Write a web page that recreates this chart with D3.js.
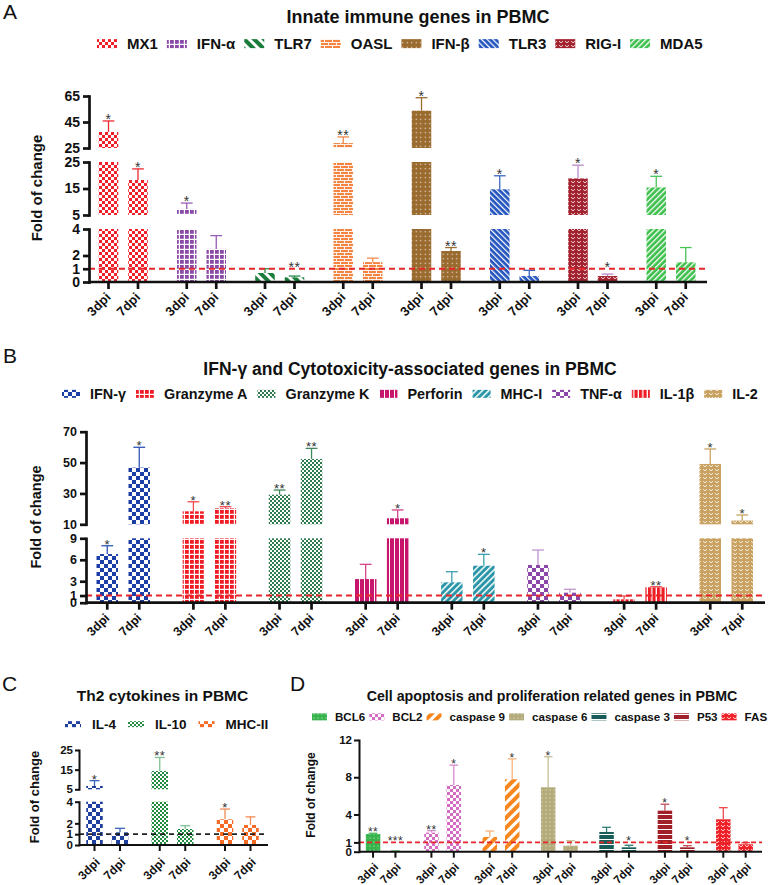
<!DOCTYPE html>
<html><head><meta charset="utf-8">
<script src="https://cdn.jsdelivr.net/npm/d3@7"></script>
<style>body{margin:0;background:#fff} text{font-family:"Liberation Sans",Arial,sans-serif}</style>
</head><body><svg id="chart" width="778" height="885"></svg>
<script>
// ---------- DATA ----------
const days = ["3dpi", "7dpi"];

// Panel A
const genesA = ["MX1", "IFN-α", "TLR7", "OASL", "IFN-β", "TLR3", "RIG-I", "MDA5"];
const meanA3 = [37.3, 7.3, 0.68, 28.8, 53.7, 14.7, 18.8, 15.4];
const sdA3   = [8.5, 2.2, 0.32, 4.7, 10.0, 5.1, 5.0, 4.2];
const meanA7 = [18.2, 2.5, 0.35, 1.5, 2.34, 0.45, 0.45, 1.49];
const sdA7   = [4.2, 1.0, 0.1, 0.3, 0.26, 0.43, 0.15, 1.11];
const sigA3  = ["*", "*", "", "**", "*", "*", "*", "*"];
const sigA7  = ["*", "", "**", "", "**", "", "*", ""];
const segDomainsA = [[0, 4], [5, 25], [25, 65]];
const segTicksA   = [[0, 1, 2, 4], [5, 15, 25], [25, 45, 65]];

// Panel B
const genesB = ["IFN-γ", "Granzyme A", "Granzyme K", "Perforin", "MHC-I", "TNF-α", "IL-1β", "IL-2"];
const meanB3 = [6.8, 18.4, 29.2, 3.3, 2.85, 5.27, 0.47, 49.1];
const sdB3   = [1.16, 6.2, 3.0, 2.06, 1.48, 2.09, 0.46, 9.7];
const meanB7 = [46.7, 20.4, 52.3, 13.9, 5.17, 1.4, 2.15, 12.4];
const sdB7   = [13.2, 1.0, 6.9, 5.4, 1.59, 0.47, 0.08, 3.6];
const sigB3  = ["*", "*", "**", "", "", "", "", "*"];
const sigB7  = ["*", "**", "**", "*", "*", "", "**", "*"];
const segDomainsB = [[0, 9], [10, 70]];
const segTicksB   = [[0, 1, 3, 6, 9], [10, 30, 50, 70]];

// Panel C
const genesC = ["IL-4", "IL-10", "MHC-II"];
const meanC3 = [6.7, 14.3, 2.37];
const sdC3   = [2.7, 6.9, 0.95];
const meanC7 = [1.17, 1.48, 1.85];
const sdC7   = [0.37, 0.3, 0.75];
const sigC3  = ["*", "**", "*"];
const sigC7  = ["", "", ""];
const segDomainsC = [[0, 4], [5, 25]];
const segTicksC   = [[0, 1, 2, 4], [5, 15, 25]];

// Panel D
const genesD = ["BCL6", "BCL2", "caspase 9", "caspase 6", "caspase 3", "P53", "FAS"];
const meanD3 = [1.9, 2.05, 1.58, 6.92, 2.12, 4.41, 3.48];
const sdD3   = [0.08, 0.21, 0.64, 3.28, 0.5, 0.69, 1.25];
const meanD7 = [0.05, 7.17, 7.78, 0.65, 0.47, 0.47, 0.8];
const sdD7   = [0.02, 2.13, 2.19, 0.53, 0.22, 0.18, 0.17];
const sigD3  = ["**", "**", "", "*", "", "*", ""];
const sigD7  = ["***", "*", "*", "", "*", "*", ""];
const segDomainsD = [[0, 12]];
const segTicksD   = [[0, 1, 4, 8, 12]];

const refLine = 1;

// ---------- STYLES ----------
const colorsA = ["#ef2029", "#8a4aa6", "#1b7d3b", "#f4843f", "#9a6b2f", "#2455be", "#a32230", "#3cbf4b"];
const errColorsA = ["#ef2a30", "#9b5cb5", "#2c8a48", "#f08a4a", "#9a6b2f", "#3a66c4", "#b98ac8", "#48c456"];
const patsA = [{t:"checker",s:3},{t:"grid",s:5,w:1.2},{t:"diag",s:7,w:3,a:-45},{t:"bricks"},{t:"dots",s:4.5,r:0.7},{t:"diag",s:4,w:1.2,a:-45},{t:"waves"},{t:"diag",s:4,w:1.3,a:45}];

const colorsB = ["#1b3fa6", "#ee1d25", "#2d7a4c", "#c7146c", "#2996a8", "#8b47a8", "#ee1d25", "#c9a261"];
const errColorsB = ["#2f55b5", "#f04a4f", "#3f8a5c", "#d3458a", "#3aa0b0", "#c094cf", "#f04a4f", "#c9a261"];
const patsB = [{t:"checker",s:4},{t:"grid",s:5,w:1.2},{t:"checker",s:2},{t:"vlines",s:5,w:1},{t:"diag",s:4.5,w:1.5,a:45},{t:"checker",s:4},{t:"vlines",s:4.5,w:1.3},{t:"waves"}];

const colorsC = ["#1e3f9e", "#238a42", "#f36b24"];
const errColorsC = ["#3b66c4", "#7fc094", "#f58a54"];
const patsC = [{t:"checker",s:4},{t:"checker",s:2},{t:"checker",s:4}];

const colorsD = ["#36b34a", "#d36cc2", "#f7861e", "#b3ab7a", "#175c58", "#a01f29", "#ee2028"];
const errColorsD = ["#4cb95a", "#d98bcd", "#f9b27a", "#c6bf95", "#2f7a74", "#c0505a", "#f04a4f"];
const patsD = [{t:"dots",s:4,r:0.6},{t:"checker",s:3},{t:"diag",s:7,w:3,a:45},{t:"dots",s:4,r:0.6},{t:"hlines",s:5,w:1},{t:"hlines",s:5,w:1},{t:"waves"}];

// ---------- DRAWING ----------
const svg = d3.select("#chart");
const defs = svg.append("defs");
const FONT = '"Liberation Sans", Arial, sans-serif';

function makePattern(id, spec, color) {
  const W = "#ffffff";
  const p = defs.append("pattern").attr("id", id).attr("patternUnits", "userSpaceOnUse");
  let w = 6, h = 6;
  if (spec.t === "checker") {
    const s = spec.s; w = h = 2 * s;
    p.append("rect").attr("width", w).attr("height", h).attr("fill", color);
    p.append("rect").attr("x", 0).attr("y", 0).attr("width", s).attr("height", s).attr("fill", W);
    p.append("rect").attr("x", s).attr("y", s).attr("width", s).attr("height", s).attr("fill", W);
  } else if (spec.t === "grid") {
    const s = spec.s; w = h = s;
    p.append("rect").attr("width", w).attr("height", h).attr("fill", color);
    p.append("rect").attr("x", s - spec.w).attr("y", 0).attr("width", spec.w).attr("height", s).attr("fill", W);
    p.append("rect").attr("x", 0).attr("y", s - spec.w).attr("width", s).attr("height", spec.w).attr("fill", W);
  } else if (spec.t === "diag") {
    w = h = spec.s;
    p.attr("patternTransform", `rotate(${spec.a})`);
    p.append("rect").attr("width", w).attr("height", h).attr("fill", color);
    p.append("rect").attr("x", 0).attr("width", spec.w).attr("height", h).attr("fill", W);
  } else if (spec.t === "bricks") {
    w = 8; h = 6;
    p.append("rect").attr("width", w).attr("height", h).attr("fill", color);
    p.append("rect").attr("x", 0).attr("y", 0).attr("width", 8).attr("height", 0.9).attr("fill", W);
    p.append("rect").attr("x", 0).attr("y", 3).attr("width", 8).attr("height", 0.9).attr("fill", W);
    p.append("rect").attr("x", 0).attr("y", 0).attr("width", 0.9).attr("height", 3).attr("fill", W);
    p.append("rect").attr("x", 4).attr("y", 3).attr("width", 0.9).attr("height", 3).attr("fill", W);
  } else if (spec.t === "dots") {
    w = h = spec.s;
    p.append("rect").attr("width", w).attr("height", h).attr("fill", color);
    p.append("circle").attr("cx", w / 2).attr("cy", h / 2).attr("r", spec.r).attr("fill", W).attr("opacity", 0.85);
  } else if (spec.t === "vlines") {
    w = spec.s; h = 4;
    p.append("rect").attr("width", w).attr("height", h).attr("fill", color);
    p.append("rect").attr("x", w - spec.w).attr("width", spec.w).attr("height", h).attr("fill", W);
  } else if (spec.t === "hlines") {
    w = 4; h = spec.s;
    p.append("rect").attr("width", w).attr("height", h).attr("fill", color);
    p.append("rect").attr("y", h - spec.w).attr("width", w).attr("height", spec.w).attr("fill", W);
  } else if (spec.t === "waves") {
    w = 6; h = 4;
    p.append("rect").attr("width", w).attr("height", h).attr("fill", color);
    p.append("path").attr("d", "M1,1.2 L3,2.8 L5,1.2").attr("fill", "none").attr("stroke", W).attr("stroke-width", 0.8);
  }
  p.attr("width", w).attr("height", h);
  return `url(#${id})`;
}

function drawPanel(cfg) {
  const g = svg.append("g");
  const fills = cfg.genes.map((gn, i) => makePattern(`${cfg.id}p${i}`, cfg.pats[i], cfg.colors[i]));

  // panel letter + title
  g.append("text").attr("x", cfg.letterX).attr("y", cfg.letterY).attr("font-size", 21).attr("fill", "#111").text(cfg.letter);
  g.append("text").attr("x", cfg.titleX).attr("y", cfg.titleY).attr("text-anchor", "middle")
    .attr("font-size", cfg.titleFont).attr("font-weight", "bold").attr("fill", "#111").text(cfg.title);

  // legend
  let lx = cfg.legendX;
  const lg = g.append("g");
  cfg.genes.forEach((gn, i) => {
    const capH = cfg.legendFont * 0.716;
    lg.append("rect").attr("x", lx).attr("y", cfg.legendY - capH / 2 - cfg.swH / 2)
      .attr("width", cfg.swW).attr("height", cfg.swH).attr("fill", fills[i]);
    lx += cfg.swW + cfg.swGap;
    const t = lg.append("text").attr("x", lx).attr("y", cfg.legendY).attr("font-size", cfg.legendFont)
      .attr("font-weight", "bold").attr("fill", "#111").text(gn);
    lx += t.node().getComputedTextLength() + cfg.itemGap;
  });

  // scales
  const segs = cfg.domains.map((dom, i) => ({
    lo: dom[0], hi: dom[1], ticks: cfg.ticks[i],
    sc: d3.scaleLinear().domain(dom).range(cfg.yRanges[i])
  }));
  const yOf = v => {
    for (let i = segs.length - 1; i >= 0; i--) {
      if (v >= segs[i].lo || i === 0) return segs[i].sc(Math.min(v, segs[i].hi));
    }
  };
  const xg = d3.scalePoint().domain(cfg.genes).range([cfg.c0, cfg.c1]);
  const xi = d3.scaleBand().domain(days).range([-cfg.half, cfg.half]).paddingInner(cfg.pad).paddingOuter(0);
  const bw = xi.bandwidth();
  const yZero = segs[0].sc(0);

  const rows = [];
  cfg.genes.forEach((gn, i) => {
    rows.push({gene: gn, i, day: days[0], mean: cfg.mean3[i], sd: cfg.sd3[i], sig: cfg.sig3[i]});
    rows.push({gene: gn, i, day: days[1], mean: cfg.mean7[i], sd: cfg.sd7[i], sig: cfg.sig7[i]});
  });
  rows.forEach(r => { r.cx = xg(r.gene) + xi(r.day) + bw / 2; });

  // bars (segmented at axis breaks)
  const bars = g.append("g");
  rows.forEach(r => {
    segs.forEach(s => {
      if (r.mean > s.lo) {
        const yT = s.sc(Math.min(r.mean, s.hi));
        const yB = s.sc(s.lo);
        bars.append("rect").attr("x", r.cx - bw / 2).attr("y", yT).attr("width", bw)
          .attr("height", Math.max(0.6, yB - yT)).attr("fill", fills[r.i]);
      }
    });
  });

  // error bars
  const eb = g.append("g").attr("fill", "none").attr("stroke-width", 1.3);
  rows.forEach(r => {
    const y1 = yOf(r.mean), y2 = yOf(r.mean + r.sd);
    const capW = bw * cfg.capFrac;
    eb.append("line").attr("x1", r.cx).attr("x2", r.cx).attr("y1", y1).attr("y2", y2).attr("stroke", cfg.errColors[r.i]);
    eb.append("line").attr("x1", r.cx - capW / 2).attr("x2", r.cx + capW / 2).attr("y1", y2).attr("y2", y2).attr("stroke", cfg.errColors[r.i]);
  });

  // reference line at 1
  g.append("line").attr("x1", cfg.x0).attr("x2", cfg.x1).attr("y1", yOf(refLine)).attr("y2", yOf(refLine))
    .attr("stroke", cfg.lineColor).attr("stroke-width", cfg.dashW).attr("stroke-dasharray", cfg.dash);

  // significance stars
  rows.forEach(r => {
    if (!r.sig) return;
    const top = yOf(Math.max(r.mean + r.sd, refLine));
    g.append("text").attr("x", r.cx).attr("y", top + cfg.starDy).attr("text-anchor", "middle")
      .attr("font-size", cfg.starFont).attr("fill", "#333").attr("letter-spacing", 0.5).text(r.sig);
  });

  // y axes (one per segment)
  segs.forEach(s => {
    const ax = g.append("g").attr("transform", `translate(${cfg.x0},0)`)
      .call(d3.axisLeft(s.sc).tickValues(s.ticks).tickFormat(d3.format("d"))
        .tickSize(cfg.tickLen).tickSizeOuter(0).tickPadding(cfg.tickPad));
    ax.select(".domain").attr("stroke", "#111").attr("stroke-width", cfg.axisW).attr("stroke-linecap", "square");
    ax.selectAll(".tick line").attr("stroke", "#111").attr("stroke-width", cfg.axisW);
    ax.selectAll(".tick text").attr("font-family", FONT).attr("font-size", cfg.tickFont)
      .attr("font-weight", "bold").attr("fill", "#111");
  });

  // x axis
  g.append("line").attr("x1", cfg.x0).attr("x2", cfg.x1).attr("y1", yZero).attr("y2", yZero)
    .attr("stroke", "#111").attr("stroke-width", cfg.axisW);
  rows.forEach(r => {
    g.append("line").attr("x1", r.cx).attr("x2", r.cx).attr("y1", yZero).attr("y2", yZero + cfg.xTickLen)
      .attr("stroke", "#111").attr("stroke-width", cfg.axisW);
    g.append("text").attr("transform", `translate(${r.cx + cfg.xLabDx},${yZero + cfg.xLabDy}) rotate(-45)`)
      .attr("text-anchor", "end").attr("font-size", cfg.xLabFont).attr("font-weight", "bold").attr("fill", "#111").text(r.day);
  });

  // y title
  g.append("text").attr("transform", `translate(${cfg.yTitleX},${cfg.yTitleY}) rotate(-90)`)
    .attr("text-anchor", "middle").attr("font-size", cfg.yTitleFont).attr("font-weight", "bold").attr("fill", "#111")
    .text("Fold of change");
}

drawPanel({
  id: "A", genes: genesA, mean3: meanA3, sd3: sdA3, mean7: meanA7, sd7: sdA7, sig3: sigA3, sig7: sigA7,
  domains: segDomainsA, ticks: segTicksA, yRanges: [[282, 229], [215, 162], [148, 96]],
  x0: 89, x1: 707, c0: 123.25, c1: 671, half: 24.5, pad: 0.339,
  colors: colorsA, errColors: errColorsA, pats: patsA,
  axisW: 2.7, tickLen: 6, tickPad: 3, tickFont: 14, xTickLen: 7, xLabFont: 13, xLabDx: 3, xLabDy: 16,
  lineColor: "#e8262a", dashW: 2, dash: "6,4", starFont: 14, starDy: 3, capFrac: 0.6,
  letter: "A", letterX: 3, letterY: 19,
  title: "Innate immune genes in PBMC", titleX: 418, titleY: 23, titleFont: 18,
  yTitleX: 41.5, yTitleY: 188, yTitleFont: 15,
  legendX: 97, legendY: 49, legendFont: 15, swW: 20, swH: 9, swGap: 10, itemGap: 9
});

drawPanel({
  id: "B", genes: genesB, mean3: meanB3, sd3: sdB3, mean7: meanB7, sd7: sdB7, sig3: sigB3, sig7: sigB7,
  domains: segDomainsB, ticks: segTicksB, yRanges: [[602.7, 538.3], [524.3, 431.7]],
  x0: 86, x1: 765, c0: 123.25, c1: 726.25, half: 26.75, pad: 0.328,
  colors: colorsB, errColors: errColorsB, pats: patsB,
  axisW: 2.7, tickLen: 6, tickPad: 3, tickFont: 12.5, xTickLen: 7, xLabFont: 12.5, xLabDx: 3, xLabDy: 16,
  lineColor: "#e8262a", dashW: 2, dash: "6,4", starFont: 13, starDy: 3, capFrac: 0.55,
  letter: "B", letterX: 3, letterY: 363,
  title: "IFN-γ and Cytotoxicity-associated genes in PBMC", titleX: 410, titleY: 375, titleFont: 17.5,
  yTitleX: 40.5, yTitleY: 517, yTitleFont: 14.5,
  legendX: 62, legendY: 399, legendFont: 14.4, swW: 18, swH: 8, swGap: 10, itemGap: 10
});

drawPanel({
  id: "C", genes: genesC, mean3: meanC3, sd3: sdC3, mean7: meanC7, sd7: sdC7, sig3: sigC3, sig7: sigC7,
  domains: segDomainsC, ticks: segTicksC, yRanges: [[845, 801.7], [789.3, 750]],
  x0: 79, x1: 268, c0: 107.25, c1: 237.75, half: 21, pad: 0.353,
  colors: colorsC, errColors: errColorsC, pats: patsC,
  axisW: 2, tickLen: 4, tickPad: 2, tickFont: 11.5, xTickLen: 6, xLabFont: 12, xLabDx: 6, xLabDy: 18,
  lineColor: "#222", dashW: 1.8, dash: "5,4", starFont: 13, starDy: 3, capFrac: 0.6,
  letter: "C", letterX: 2, letterY: 691,
  title: "Th2 cytokines in PBMC", titleX: 162.5, titleY: 701, titleFont: 15.5,
  yTitleX: 39, yTitleY: 797, yTitleFont: 13,
  legendX: 65, legendY: 729, legendFont: 13.5, swW: 16, swH: 6, swGap: 11, itemGap: 12
});

drawPanel({
  id: "D", genes: genesD, mean3: meanD3, sd3: sdD3, mean7: meanD7, sd7: sdD7, sig3: sigD3, sig7: sigD7,
  domains: segDomainsD, ticks: segTicksD, yRanges: [[851.7, 740]],
  x0: 359, x1: 762, c0: 384.25, c1: 734.5, half: 18.45, pad: 0.353,
  colors: colorsD, errColors: errColorsD, pats: patsD,
  axisW: 2, tickLen: 5, tickPad: 2, tickFont: 11.5, xTickLen: 6, xLabFont: 11.5, xLabDx: 6, xLabDy: 16,
  lineColor: "#e8262a", dashW: 1.6, dash: "5,3", starFont: 12, starDy: 3, capFrac: 0.6,
  letter: "D", letterX: 290, letterY: 691,
  title: "Cell apoptosis and proliferation related genes in PBMC", titleX: 552, titleY: 701, titleFont: 14.2,
  yTitleX: 315, yTitleY: 795, yTitleFont: 12,
  legendX: 312, legendY: 721, legendFont: 11.6, swW: 15, swH: 7, swGap: 8, itemGap: 4
});
</script></body></html>
